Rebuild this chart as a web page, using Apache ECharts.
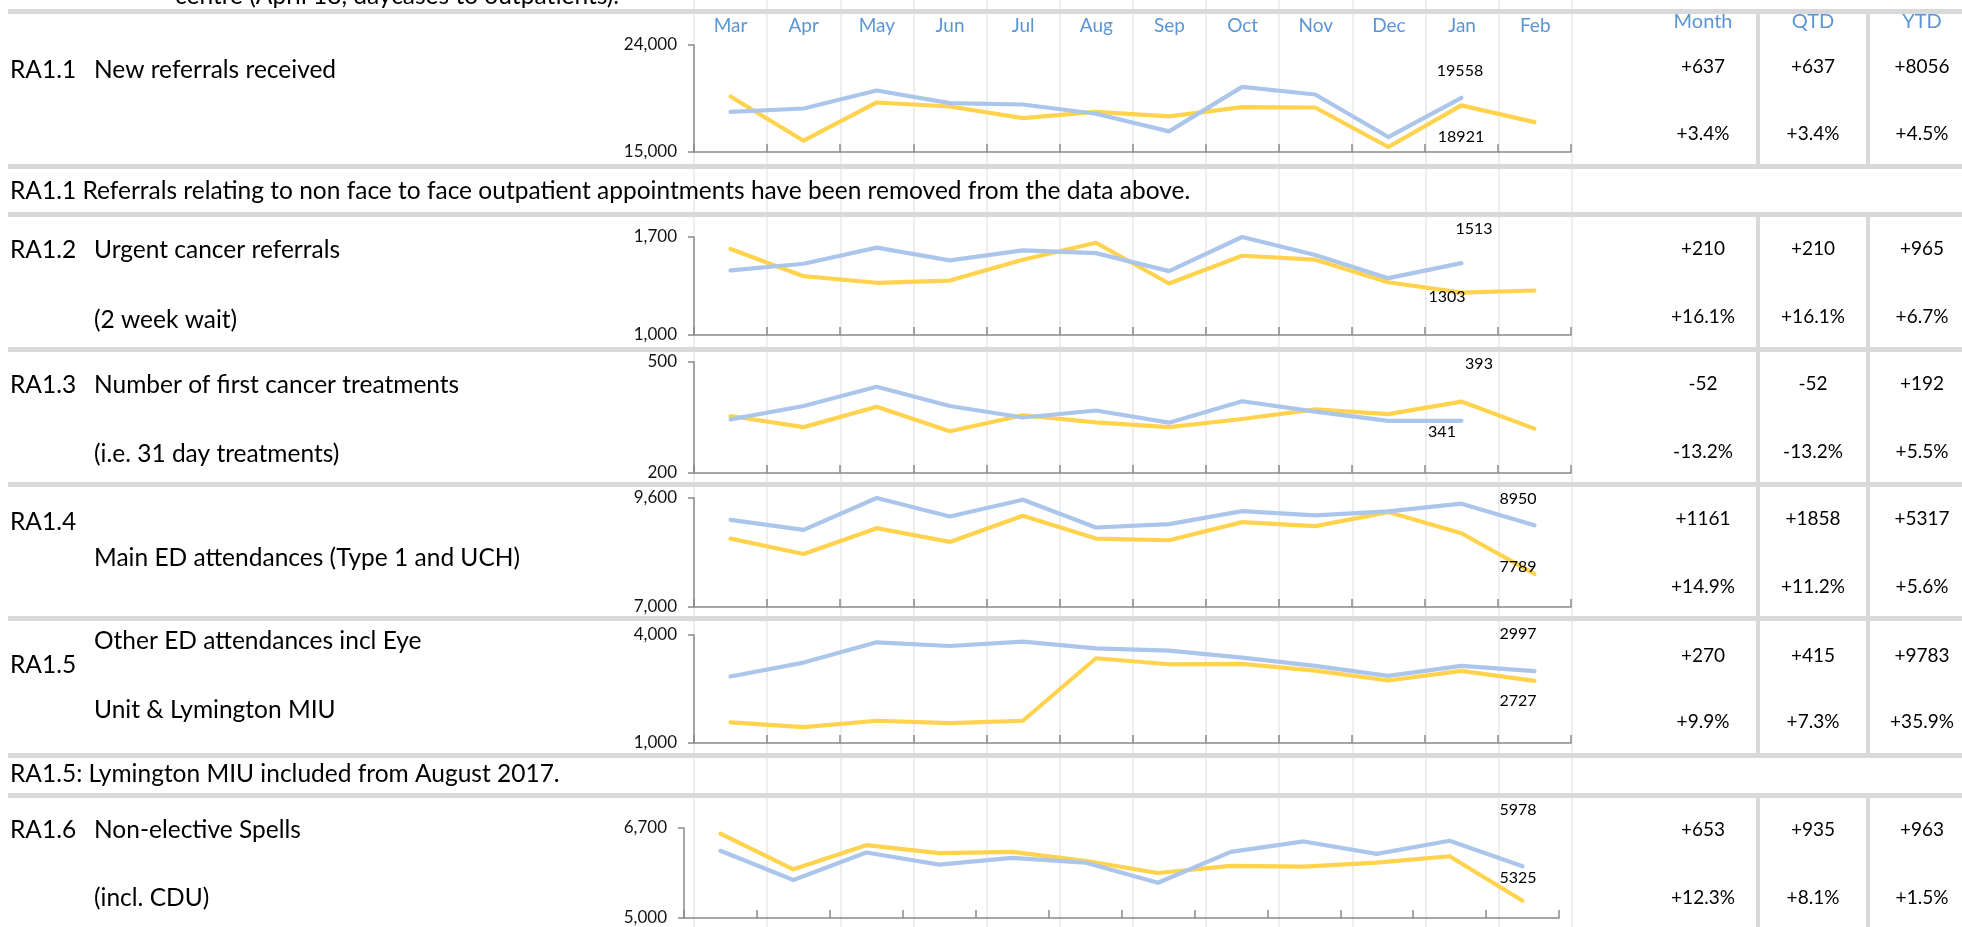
<!DOCTYPE html>
<html>
<head>
<meta charset="utf-8">
<script src="https://cdn.jsdelivr.net/npm/echarts@6/dist/echarts.min.js"></script>
<style>
  html, body { margin: 0; padding: 0; background: #ffffff; }
  #chart { width: 1962px; height: 927px; }
</style>
</head>
<body>
<div id="chart"></div>
<script>
// Month categories (financial year Mar..Feb)
const months = ['Mar', 'Apr', 'May', 'Jun', 'Jul', 'Aug', 'Sep', 'Oct', 'Nov', 'Dec', 'Jan', 'Feb'];

// RA1.1 New referrals received
const ra11ThisYear = [18382, 18661, 20171, 19109, 18997, 18214, 16733, 20478, 19835, 16258, 19558];
const ra11LastYear = [19668, 15950, 19165, 18829, 17851, 18382, 17991, 18773, 18745, 15419, 18921, 17516];

// RA1.2 Urgent cancer referrals (2 week wait)
const ra12ThisYear = [1461, 1509, 1624, 1533, 1604, 1585, 1456, 1700, 1571, 1406, 1513];
const ra12LastYear = [1614, 1420, 1373, 1389, 1538, 1659, 1368, 1566, 1538, 1377, 1303, 1318];

// RA1.3 Number of first cancer treatments (31 day)
const ra13ThisYear = [345, 381, 433, 381, 350, 369, 336, 394, 366, 341, 341];
const ra13LastYear = [354, 324, 379, 313, 356, 337, 324, 346, 372, 359, 393, 320];

// RA1.4 Main ED attendances (Type 1 and UCH)
const ra14ThisYear = [9080, 8840, 9600, 9160, 9560, 8896, 8976, 9288, 9184, 9280, 9464, 8950];
const ra14LastYear = [8632, 8264, 8880, 8552, 9176, 8632, 8592, 9024, 8928, 9264, 8760, 7789];

// RA1.5 Other ED attendances incl Eye Unit & Lymington MIU
const ra15ThisYear = [2846, 3234, 3797, 3695, 3815, 3631, 3566, 3372, 3142, 2865, 3142, 2997];
const ra15LastYear = [1572, 1443, 1618, 1554, 1618, 3354, 3188, 3197, 3012, 2735, 3003, 2727];

// RA1.6 Non-elective spells (incl. CDU)
const ra16ThisYear = [6269, 5717, 6237, 6009, 6135, 6047, 5666, 6250, 6446, 6212, 6459, 5978];
const ra16LastYear = [6592, 5920, 6376, 6224, 6250, 6078, 5850, 5983, 5970, 6047, 6167, 5325];

// Variance table
const tableHeaders = ['Month', 'QTD', 'YTD'];
const monthDiff = ['+637', '+210', '-52', '+1161', '+270', '+653'];
const monthPct  = ['+3.4%', '+16.1%', '-13.2%', '+14.9%', '+9.9%', '+12.3%'];
const qtdDiff   = ['+637', '+210', '-52', '+1858', '+415', '+935'];
const qtdPct    = ['+3.4%', '+16.1%', '-13.2%', '+11.2%', '+7.3%', '+8.1%'];
const ytdDiff   = ['+8056', '+965', '+192', '+5317', '+9783', '+963'];
const ytdPct    = ['+4.5%', '+6.7%', '+5.5%', '+5.6%', '+35.9%', '+1.5%'];

// Row captions
const rowCodes = ['RA1.1', 'RA1.2', 'RA1.3', 'RA1.4', 'RA1.5', 'RA1.6'];
const rowTitles = [
  ['New referrals received'],
  ['Urgent cancer referrals', '(2 week wait)'],
  ['Number of first cancer treatments', '(i.e. 31 day treatments)'],
  ['Main ED attendances (Type 1 and UCH)'],
  ['Other ED attendances incl Eye', 'Unit & Lymington MIU'],
  ['Non-elective Spells', '(incl. CDU)']
];
const noteLines = [
  'centre (April 18, daycases to outpatients).',
  'RA1.1 Referrals relating to non face to face outpatient appointments have been removed from the data above.',
  'RA1.5: Lymington MIU included from August 2017.'
];
const axisRanges = [[15000, 24000], [1000, 1700], [200, 500], [7000, 9600], [1000, 4000], [5000, 6700]];

// ---------- layout ----------
const FONT = 'Lato, "Open Sans", sans-serif';
const BLUE = '#abc6ea';
const GOLD = '#ffd34d';
const AXIS = '#8a8a8a';
const BAND = '#d9d9d9';
const HEAD = '#5b95d6';
const TEXT_FONT = '24.5px ' + FONT;
const TABLE_FONT = '19px ' + FONT;

const series = [
  [ra11ThisYear, ra11LastYear], [ra12ThisYear, ra12LastYear], [ra13ThisYear, ra13LastYear],
  [ra14ThisYear, ra14LastYear], [ra15ThisYear, ra15LastYear], [ra16ThisYear, ra16LastYear]
];

const panelBoxes = [
  { left: 694, right: 1571, top: 45,  bottom: 152, labelIdx: 10, upper: [1460, 71],  lower: [1461, 137] },
  { left: 694, right: 1571, top: 237, bottom: 335, labelIdx: 10, upper: [1474, 229], lower: [1447, 297] },
  { left: 694, right: 1571, top: 362, bottom: 473, labelIdx: 10, upper: [1479, 364], lower: [1442, 432] },
  { left: 694, right: 1571, top: 498, bottom: 607, labelIdx: 11, upper: [1518, 499], lower: [1518, 567] },
  { left: 694, right: 1571, top: 635, bottom: 743, labelIdx: 11, upper: [1518, 634], lower: [1518, 701] },
  { left: 684, right: 1559, top: 828, bottom: 918, labelIdx: 11, upper: [1518, 810], lower: [1518, 878] }
];

// row text positions: [codeY, firstLineY, secondLineY]
const rowTextY = [[70, 70], [250, 250, 320], [385, 385, 454], [522, 558], [665, 641, 710], [830, 830, 898]];
const tableRowY = [[67, 134], [249, 317], [384, 452], [519, 587], [656, 722], [830, 898]];
const tableColX = [1703, 1813, 1922];
const bandY = [9, 164, 212, 347, 482, 616, 753, 793];
// vertical table dividers span each chart block
const dividerSpans = [[14, 164], [217, 347], [352, 482], [487, 616], [621, 753], [798, 927]];
const dividerX = [1756, 1866];

const W = 1962, H = 927;

const grids = [{ left: 694, width: 877.8, top: 0, height: H }];
const xAxes = [{
  gridIndex: 0, type: 'category', data: months, position: 'top', boundaryGap: true,
  axisLine: { show: false }, axisTick: { show: false },
  splitLine: { show: true, interval: 0, lineStyle: { color: '#eeeeee', width: 2 } },
  axisLabel: { interval: 0, color: HEAD, fontSize: 19, fontFamily: FONT, margin: -35 }
}];
const yAxes = [{ gridIndex: 0, type: 'value', show: false }];
const seriesList = [];

function fmt(v) { return v.toLocaleString('en-US'); }

panelBoxes.forEach((p, i) => {
  const gi = i + 1;
  const [mn, mx] = axisRanges[i];
  grids.push({ left: p.left, width: p.right - p.left, top: p.top, height: p.bottom - p.top });
  xAxes.push({
    gridIndex: gi, type: 'category', data: months, boundaryGap: true,
    axisLine: { lineStyle: { color: AXIS, width: 1.5 } },
    axisTick: { show: true, inside: true, length: 8, interval: 0, lineStyle: { color: AXIS, width: 1.5 } },
    axisLabel: { show: false }, splitLine: { show: false }
  });
  yAxes.push({
    gridIndex: gi, type: 'value', min: mn, max: mx,
    axisLine: { show: true, lineStyle: { color: AXIS, width: 1.5 } },
    axisTick: { show: true, length: 6, customValues: [mn, mx], lineStyle: { color: AXIS, width: 1.5 } },
    axisLabel: { customValues: [mn, mx], formatter: fmt, color: '#141414', fontSize: 17, fontFamily: FONT, margin: 17 },
    splitLine: { show: false }
  });
  const [thisYear, lastYear] = series[i];
  const k = p.labelIdx;
  const thisUpper = thisYear[k] >= lastYear[k];
  const mk = (arr, color, upper, name) => ({
    type: 'line', name, xAxisIndex: gi, yAxisIndex: gi, silent: true, animation: false,
    symbol: 'circle', symbolSize: 1, showSymbol: true,
    itemStyle: { color: 'rgba(0,0,0,0)' },
    lineStyle: { color, width: 4.2, cap: 'round', join: 'round' },
    data: arr.map((v, j) => j === k ? {
      value: v,
      label: { show: true, formatter: String(v), color: '#000', fontSize: 16, fontFamily: FONT, position: 'inside' }
    } : v),
    __target: upper ? p.upper : p.lower
  });
  seriesList.push(mk(lastYear, GOLD, !thisUpper, 'last' + i));
  seriesList.push(mk(thisYear, BLUE, thisUpper, 'this' + i));
});

// ---------- graphic (bands, dividers, text) ----------
const graphics = [];
bandY.forEach(y => graphics.push({ type: 'rect', z: 10, shape: { x: 8, y, width: W - 8, height: 5 }, style: { fill: BAND } }));
dividerSpans.forEach(([a, b]) => dividerX.forEach(x =>
  graphics.push({ type: 'rect', z: 10, shape: { x, y: a, width: 4, height: b - a }, style: { fill: BAND } })));

const txt = (x, y, text, extra) => ({
  type: 'text', z: 20, x, y,
  style: Object.assign({ text, fill: '#000', font: TEXT_FONT, textAlign: 'left', textVerticalAlign: 'middle' }, extra || {})
});

graphics.push(txt(175, -4, noteLines[0]));
graphics.push(txt(10, 191, noteLines[1]));
graphics.push(txt(10, 774, noteLines[2]));

rowCodes.forEach((code, i) => {
  const ys = rowTextY[i];
  graphics.push(txt(10, ys[0], code));
  rowTitles[i].forEach((t, j) => graphics.push(txt(94, ys[j + 1], t)));
});

tableHeaders.forEach((h, c) => graphics.push(txt(tableColX[c], 22, h, { fill: HEAD, textAlign: 'center', font: '20px ' + FONT })));
const cols = [[monthDiff, monthPct], [qtdDiff, qtdPct], [ytdDiff, ytdPct]];
tableRowY.forEach(([y1, y2], r) => cols.forEach(([d, p], c) => {
  graphics.push(txt(tableColX[c], y1, d[r], { textAlign: 'center', font: TABLE_FONT }));
  graphics.push(txt(tableColX[c], y2, p[r], { textAlign: 'center', font: TABLE_FONT }));
}));

const chart = echarts.init(document.getElementById('chart'), null, { renderer: 'canvas' });
chart.setOption({
  animation: false,
  backgroundColor: '#ffffff',
  grid: grids, xAxis: xAxes, yAxis: yAxes,
  series: seriesList.map(s => { const c = Object.assign({}, s); delete c.__target; return c; }),
  graphic: graphics
});

// place the end-point value labels at their caption spots
const labelled = seriesList.map(s => {
  const gi = s.xAxisIndex;
  const p = panelBoxes[gi - 1];
  const k = p.labelIdx;
  const v = s.data[k].value;
  const px = chart.convertToPixel({ gridIndex: gi }, [k, v]);
  const c = Object.assign({}, s); delete c.__target;
  c.data = s.data.map((d, j) => j === k ? {
    value: v,
    label: Object.assign({}, d.label, { offset: [s.__target[0] - px[0], s.__target[1] - px[1]] })
  } : d);
  return c;
});
chart.setOption({ series: labelled });
</script>
</body>
</html>
